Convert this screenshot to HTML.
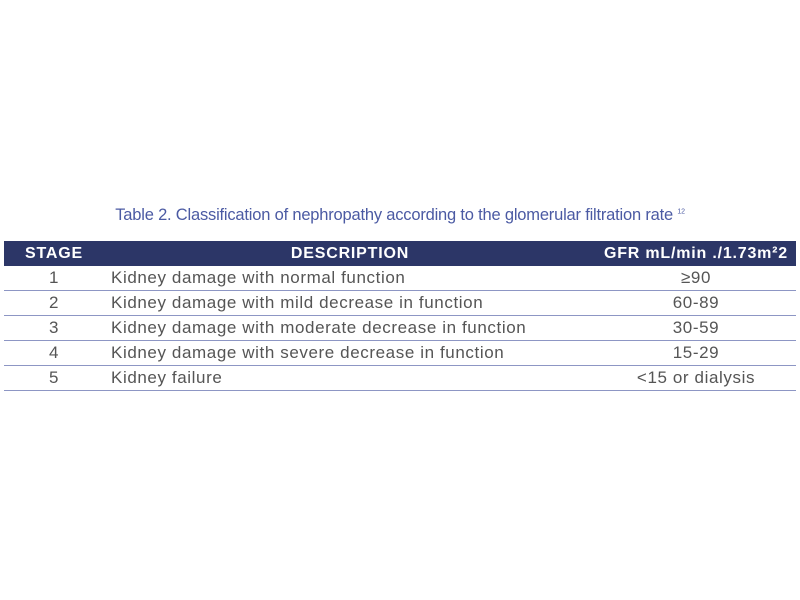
<!DOCTYPE html>
<html><head><meta charset="utf-8"><style>
body{margin:0;width:800px;height:600px;background:#fff;position:relative;font-family:"Liberation Sans",sans-serif;}
#title{position:absolute;left:0;width:800px;top:206px;text-align:center;color:#4b5aa3;font-size:16.5px;letter-spacing:-0.2px;}
#title sup{font-size:7px;}
table{position:absolute;left:4px;top:241px;width:792px;border-collapse:collapse;}
th{background:#2c3667;color:#fff;font-weight:bold;height:25px;padding:0;font-size:16px;letter-spacing:0.8px;}
td{height:24px;padding:0;border-bottom:1px solid #8d96c4;color:#555;font-size:17px;letter-spacing:0.6px;}
td.c{text-align:center}
td.d{padding-left:7px}
</style></head><body>
<div id="title">Table 2. Classification of nephropathy according to the glomerular filtration rate <sup>12</sup></div>
<table>
<tr><th style="width:100px">STAGE</th><th>DESCRIPTION</th><th style="width:200px">GFR mL/min ./1.73m²2</th></tr>
<tr><td class="c">1</td><td class="d">Kidney damage with normal function</td><td class="c">≥90</td></tr>
<tr><td class="c">2</td><td class="d">Kidney damage with mild decrease in function</td><td class="c">60-89</td></tr>
<tr><td class="c">3</td><td class="d">Kidney damage with moderate decrease in function</td><td class="c">30-59</td></tr>
<tr><td class="c">4</td><td class="d">Kidney damage with severe decrease in function</td><td class="c">15-29</td></tr>
<tr><td class="c">5</td><td class="d">Kidney failure</td><td class="c">&lt;15 or dialysis</td></tr>
</table>
</body></html>
